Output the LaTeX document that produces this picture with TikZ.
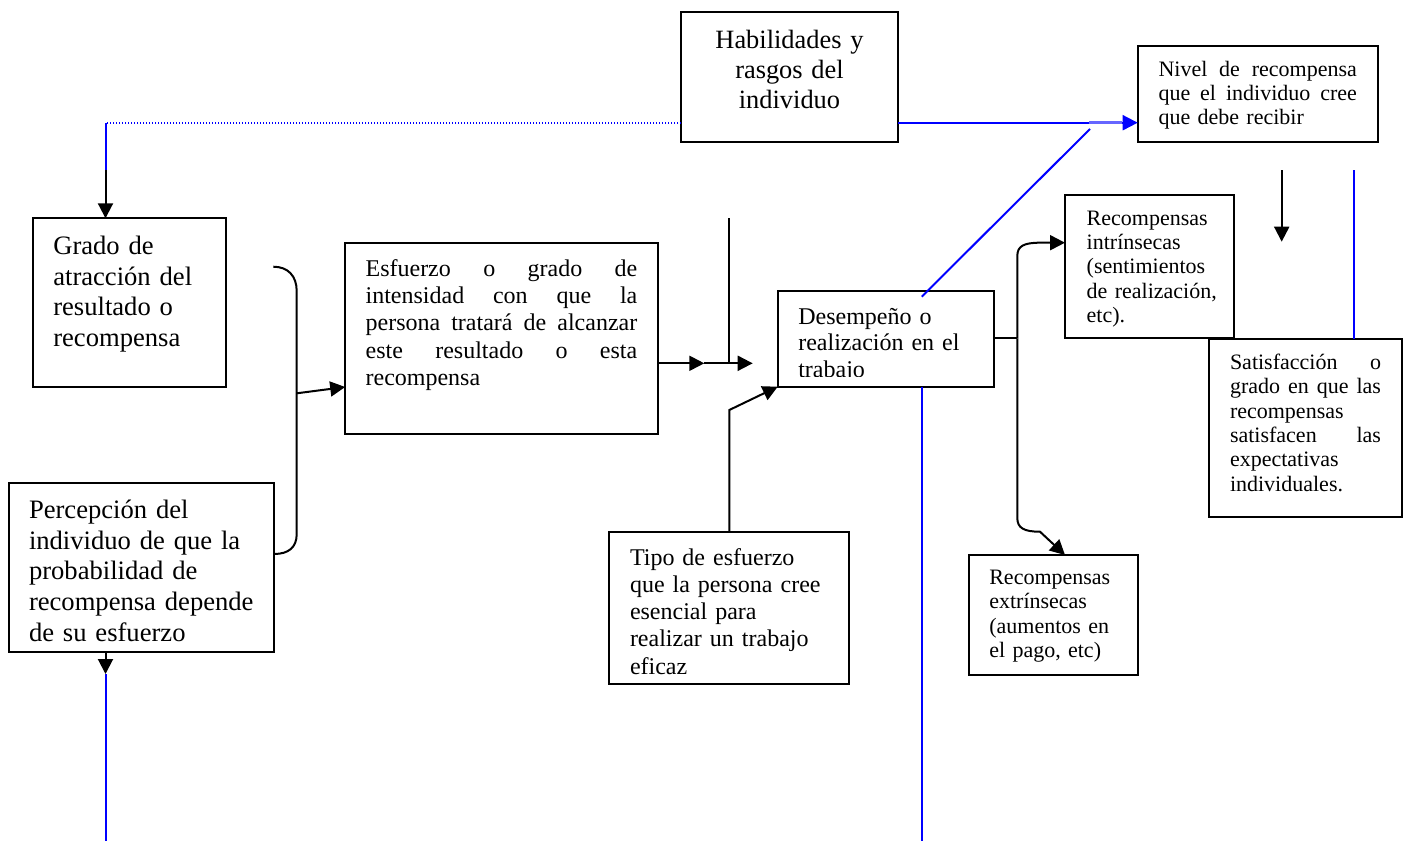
\documentclass[tikz,border=0pt]{standalone}
\usepackage{fontspec}
\setmainfont{Liberation Serif}
\usetikzlibrary{arrows.meta,calc}
\setlength{\lineskiplimit}{-20pt}
\hyphenpenalty=10000
\exhyphenpenalty=10000
\newcommand\fL{\fontsize{13.3pt}{15.35pt}\selectfont}
\newcommand\fH{\fontsize{13.2pt}{15pt}\selectfont}
\newcommand\fM{\fontsize{12pt}{13.65pt}\selectfont}
\newcommand\fMd{\fontsize{12pt}{13.4pt}\selectfont}
\newcommand\fS{\fontsize{11pt}{12.2pt}\selectfont}
\newcommand\jline[1]{\makebox[\linewidth][l]{\spaceskip=0.25em plus 1fill\relax #1}}
\newcommand\nb[1]{\mbox{#1}}
\tikzset{
  bx/.style={draw, line width=1pt, anchor=north west, outer sep=0pt, inner ysep=0pt, align=left},
  bxnodraw/.style={anchor=north west, outer sep=0pt, inner ysep=0pt, align=left},
  conn/.style={line width=1pt},
  arr/.style={line width=1pt, -{Triangle[length=7.5pt,width=7.5pt]}},
  bl/.style={blue, line width=1pt},
  blarr/.style={bl, -{Triangle[length=7.5pt,width=7.5pt]}},
  bldot/.style={blue, line width=0.8pt, dash pattern=on 0.7pt off 0.8pt},
}
\begin{document}
\begin{tikzpicture}[x=0.5pt,y=-0.5pt]
\fill[white] (0,0) rectangle (1408,841);
\useasboundingbox (0,0) rectangle (1408,841);

% boxes
\node[bx, align=center, font=\fH, text width=98.5pt, inner xsep=5pt, text height=18pt, text depth=47pt] (hab) at (681,12)
  {Habilidades y\\rasgos del\\individuo};
\node[bx, font=\fS, text width=99.2pt, inner xsep=10.4pt, text height=15pt, text depth=32.85pt] (nivel) at (1137.7,46)
  {\jline{Nivel de recompensa}\\\jline{que el individuo cree}\\\nb{que debe recibir}};
\node[bx, font=\fL, text width=75.9pt, inner xsep=10.3pt, text height=18.05pt, text depth=66.15pt] (grado) at (32.7,218.3)
  {\nb{Grado de}\\\nb{atracción del}\\\nb{resultado o}\\\nb{recompensa}};
\node[bx, font=\fL, text width=112.5pt, inner xsep=10pt, text height=17.5pt, text depth=66.7pt] (percep) at (9,483.3)
  {\nb{Percepción del}\\\nb{individuo de que la}\\\nb{probabilidad de}\\\nb{recompensa depende}\\\nb{de su esfuerzo}};
\node[bx, font=\fM, text width=135.85pt, inner xsep=10.2pt, text height=16.5pt, text depth=79pt] (esf) at (345.2,243.3)
  {\jline{Esfuerzo o grado de}\\\jline{intensidad con que la}\\\jline{persona tratará de alcanzar}\\\jline{este resultado o esta}\\\nb{recompensa}};
\begin{scope}
  \clip (770,285) rectangle (1000,376.7);
  \node[bxnodraw, font=\fMd, text width=87.55pt, inner xsep=10.3pt, text height=16.65pt, text depth=31.35pt] (desemp) at (777.7,290.7)
    {\nb{Desempeño o}\\\nb{realización en el}\\\nb{trabajo}};
\end{scope}
\draw[line width=1pt] (desemp.north west) rectangle (desemp.south east);
\node[bx, font=\fM, text width=99.3pt, inner xsep=10.35pt, text height=16.65pt, text depth=59.65pt] (tipo) at (609.3,531.7)
  {\nb{Tipo de esfuerzo}\\\nb{que la persona cree}\\\nb{esencial para}\\\nb{realizar un trabajo}\\\nb{eficaz}};
\node[bx, font=\fS, text width=62.8pt, inner xsep=10.85pt, text height=15pt, text depth=56.35pt] (intr) at (1065,195)
  {\nb{Recompensas}\\\nb{intrínsecas}\\\nb{(sentimientos}\\\nb{de realización,}\\\nb{etc).}};
\node[bx, font=\fS, text width=75.5pt, inner xsep=10.35pt, text height=15.15pt, text depth=73.7pt] (satisf) at (1209.3,339)
  {\jline{Satisfacción o}\\\jline{grado en que las}\\\nb{recompensas}\\\jline{satisfacen las}\\\nb{expectativas}\\\nb{individuales.}};
\node[bx, font=\fS, text width=64.2pt, inner xsep=10pt, text height=14.65pt, text depth=45.35pt] (extr) at (969.3,555)
  {\nb{Recompensas}\\\nb{extrínsecas}\\\nb{(aumentos en}\\\nb{el pago, etc)}};

% top-left: dotted link to Grado
\coordinate (dl) at (105.5,122.7);
\coordinate (gt) at (105.5,170);
\draw[bldot] (hab.west |- dl) -- (dl);
\draw[bl] (dl) -- (gt);
\draw[arr] (gt) -- (gt |- grado.north);

% Habilidades -> Nivel
\coordinate (nl) at (1000,122.7);
\coordinate (ov1) at (1089,122.7);
\coordinate (ov2) at (1122,122.7);
\draw[blarr] (hab.east |- nl) -- (nivel.west |- nl);
\draw[blue!60, line width=1.6pt] (ov1) -- (ov2);

% diagonal from Desempeño
\coordinate (dg1) at (921.7,296.7);
\coordinate (dg2) at (1090,129);
\draw[bl] (dg1) -- (dg2);

% brace joining Grado and Percepción
\coordinate (bt) at (273.3,266.7);
\coordinate (bb) at (274,554);
\draw[conn] (bt) .. controls (288,266.7) and (296.7,276) .. (296.7,291) -- (296.7,534) .. controls (296.7,547) and (289,554) .. (percep.east |- bb);
\coordinate (ba) at (296.7,393.3);
\coordinate (bae) at (345.2,387);
\draw[arr] (ba) -- (esf.west |- bae);

% Percepción down
\coordinate (pd) at (105.5,674);
\coordinate (pb) at (105.5,841);
\draw[arr] (pd |- percep.south) -- (pd);
\draw[bl] (pd) -- (pb);

% Esfuerzo -> Desempeño
\coordinate (a1) at (704.3,363.3);
\coordinate (a2) at (752.7,363.3);
\coordinate (vt) at (729.3,218.3);
\draw[arr] (esf.east |- a1) -- (a1);
\draw[arr] (a1) -- (a2);
\draw[conn] (vt) -- (vt |- a1);

% Tipo -> Desempeño
\coordinate (tb) at (729.3,410);
\draw[arr] (tipo.north) -- (tb) -- (desemp.south west);

% blue down from Desempeño
\coordinate (db) at (921.7,841);
\draw[bl] (desemp.south -| db) -- (db);

% Desempeño -> rewards
\coordinate (j) at (1017.3,338.3);
\coordinate (ji) at (1065,242.7);
\coordinate (je) at ($(extr.north west)+(95.7,0)$);
\draw[conn] (desemp.east |- j) -- (j);
\draw[arr] (j) -- (1017.3,256) .. controls (1017.3,246) and (1024,242.7) .. (1040,242.7) -- (intr.west |- ji);
\draw[arr] (j) -- (1017.3,518) .. controls (1017.3,528) and (1024,531.7) .. (1040,531.7) -- (je);

% right side
\coordinate (r1) at (1281.7,170);
\coordinate (r2) at (1281.7,241.7);
\coordinate (r3) at (1353.5,170);
\draw[arr] (r1) -- (r2);
\draw[bl] (satisf.north -| r3) -- (r3);
\end{tikzpicture}
\end{document}
